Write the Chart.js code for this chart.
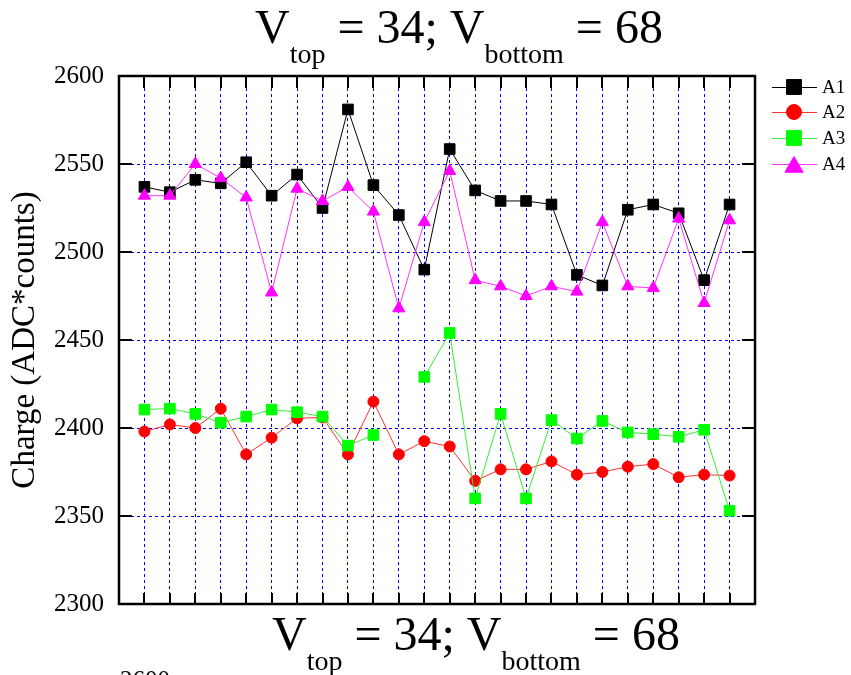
<!DOCTYPE html>
<html>
<head>
<meta charset="utf-8">
<script src="https://cdn.jsdelivr.net/npm/chart.js@4"></script>
<style>
  body { margin: 0; background: #fff; }
  #wrap { width: 851px; height: 675px; position: relative; }
</style>
</head>
<body>
<div id="wrap"><canvas id="chargeChart"></canvas></div>
<script>
// run index along x (24 runs)
const runs = [1, 2, 3, 4, 5, 6, 7, 8, 9, 10, 11, 12, 13, 14, 15, 16, 17, 18, 19, 20, 21, 22, 23, 24];
const seriesNames = ["A1", "A2", "A3", "A4"];
const A1 = [2537, 2534, 2541, 2539, 2551, 2532, 2544, 2525, 2581, 2538, 2521, 2490, 2558.5, 2535, 2529, 2529, 2527, 2487, 2481, 2524, 2527, 2522, 2484, 2527];
const A2 = [2398, 2402, 2400, 2411, 2385, 2394.5, 2405.5, 2406, 2385, 2415, 2385, 2392.5, 2389.5, 2370, 2376.5, 2376.5, 2381, 2373.5, 2375, 2378, 2379.5, 2372, 2373.5, 2373];
const A3 = [2410.5, 2411, 2408, 2403, 2406.5, 2410.5, 2409, 2406.5, 2390, 2396, null, 2429, 2454, 2360, 2408, 2360, 2404.5, 2394, 2404, 2397.5, 2396.5, 2395, 2399, 2353];
const A4 = [2532, 2532, 2550, 2542, 2531, 2477, 2536, 2529, 2537, 2523, 2468, 2517, 2546, 2484, 2480.5, 2475, 2480.5, 2477.5, 2517, 2480.5, 2479.5, 2519, 2471, 2518];
const yTicks = [2300, 2350, 2400, 2450, 2500, 2550, 2600];

const SERIF = "'Liberation Serif', 'Times New Roman', serif";

function toPoints(vals) {
  return vals.map((v, i) => ({ x: runs[i], y: v }));
}

function makeSet(label, vals, color, lineColor, style, radius, order) {
  return {
    label: label,
    data: toPoints(vals),
    borderColor: lineColor,
    backgroundColor: color,
    pointBackgroundColor: color,
    pointBorderColor: color,
    pointBorderWidth: 1,
    pointStyle: style,
    pointRadius: radius,
    pointHoverRadius: radius,
    borderWidth: 1,
    tension: 0,
    spanGaps: false,
    order: order
  };
}

// frame, inward ticks, legend and the two titles
const decorPlugin = {
  id: "decor",
  afterDatasetsDraw(chart) {
    const ctx = chart.ctx;
    const a = chart.chartArea;
    const xs = chart.scales.x;
    const ys = chart.scales.y;
    ctx.save();
    ctx.strokeStyle = "#000";
    ctx.lineWidth = 2;
    ctx.beginPath();
    runs.forEach(r => {
      const px = Math.round(xs.getPixelForValue(r));
      ctx.moveTo(px, a.top); ctx.lineTo(px, a.top + 12);
      ctx.moveTo(px, a.bottom); ctx.lineTo(px, a.bottom - 11);
    });
    yTicks.slice(1, -1).forEach(v => {
      const py = Math.round(ys.getPixelForValue(v));
      ctx.moveTo(a.left, py); ctx.lineTo(a.left + 13, py);
      ctx.moveTo(a.right, py); ctx.lineTo(a.right - 13, py);
    });
    ctx.stroke();
    ctx.lineWidth = 2.5;
    ctx.strokeRect(a.left, a.top, a.right - a.left, a.bottom - a.top);
    ctx.restore();
  },
  afterDraw(chart) {
    const ctx = chart.ctx;
    ctx.save();
    // legend
    const legendY = [87, 112, 138, 164];
    const legendR = [10.5, 7.5, 10.5, 10.5];
    chart.data.datasets.forEach((ds, i) => {
      const y = legendY[i];
      ctx.strokeStyle = ds.borderColor;
      ctx.lineWidth = 1;
      ctx.beginPath();
      ctx.moveTo(772, y + 0.5); ctx.lineTo(817, y + 0.5);
      ctx.stroke();
      ctx.fillStyle = ds.pointBackgroundColor;
      ctx.strokeStyle = ds.pointBorderColor;
      Chart.helpers.drawPoint(ctx, { pointStyle: ds.pointStyle, radius: legendR[i], borderWidth: 1, rotation: 0 }, 794, y + (ds.pointStyle === "triangle" ? 3 : 0));
      ctx.fillStyle = "#000";
      ctx.font = "19px " + SERIF;
      ctx.textBaseline = "middle";
      ctx.textAlign = "left";
      ctx.fillText(ds.label, 822, y + 1);
    });
    // titles with subscripts
    drawVTitle(ctx, 255, 43);
    drawVTitle(ctx, 272, 650);
    // the clipped tick label of the next panel
    ctx.fillStyle = "#000";
    ctx.font = "25px " + SERIF;
    ctx.textAlign = "left";
    ctx.textBaseline = "alphabetic";
    ctx.fillText("2600", 120, 688);
    ctx.restore();
  }
};

function drawVTitle(ctx, x, base) {
  const parts = [
    ["V", 48, 0], ["top", 28, 20], [" = 34; V", 48, 0], ["bottom", 28, 20], [" = 68", 48, 0]
  ];
  ctx.fillStyle = "#000";
  ctx.textAlign = "left";
  ctx.textBaseline = "alphabetic";
  parts.forEach(p => {
    ctx.font = p[1] + "px " + SERIF;
    ctx.fillText(p[0], x, base + p[2]);
    x += ctx.measureText(p[0]).width;
  });
}

new Chart(document.getElementById("chargeChart"), {
  type: "line",
  data: {
    datasets: [
      makeSet(seriesNames[0], A1, "#000000", "#000000", "rect", 7.5, 3),
      makeSet(seriesNames[1], A2, "#ff0000", "#ff3030", "circle", 5.5, 2),
      makeSet(seriesNames[2], A3, "#00ff00", "#33ee33", "rect", 7.5, 1),
      makeSet(seriesNames[3], A4, "#ff00ff", "#ff33ff", "triangle", 7, 0)
    ]
  },
  options: {
    responsive: true,
    maintainAspectRatio: false,
    animation: false,
    events: [],
    layout: { padding: { left: 0, top: 76, right: 96, bottom: 71 } },
    plugins: { legend: { display: false }, tooltip: { enabled: false }, title: { display: false } },
    scales: {
      x: {
        type: "linear",
        min: 0,
        max: 25,
        ticks: { display: false, stepSize: 1 },
        grid: {
          drawTicks: false,
          color: c => (c.tick && (c.tick.value <= 0 || c.tick.value >= 25)) ? "rgba(0,0,0,0)" : "#0000ff",
          lineWidth: 1
        },
        border: { display: false, dash: [3, 3] },
        afterFit: s => { s.height = 0; }
      },
      y: {
        min: 2300,
        max: 2600,
        afterBuildTicks: s => { s.ticks = yTicks.map(v => ({ value: v })); },
        ticks: {
          color: "#000",
          font: { family: SERIF, size: 25 },
          padding: 15,
          callback: v => String(v)
        },
        grid: {
          drawTicks: false,
          color: c => (c.tick && (c.tick.value <= 2300 || c.tick.value >= 2600)) ? "rgba(0,0,0,0)" : "#0000ff",
          lineWidth: 1
        },
        border: { display: false, dash: [3, 3] },
        title: {
          display: true,
          text: "Charge (ADC*counts)",
          color: "#000",
          font: { family: SERIF, size: 33 },
          padding: { top: 6, bottom: 0 }
        },
        afterFit: s => { s.width = 119; }
      }
    }
  },
  plugins: [decorPlugin]
});
</script>
</body>
</html>
